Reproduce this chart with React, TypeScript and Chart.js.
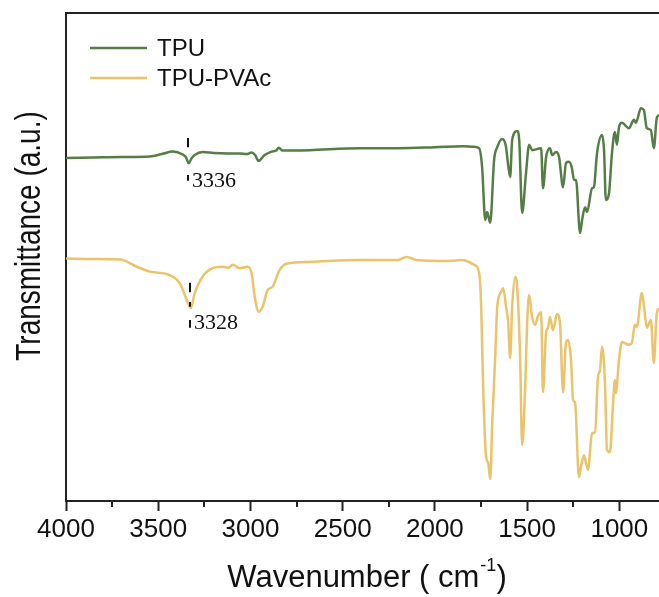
import React, { useEffect, useRef } from "react";
import { Chart, registerables } from "chart.js";

Chart.register(...registerables);

// ---- Data ----
const seriesNames = ["TPU", "TPU-PVAc"];

const tpuWavenumber = [
  4000, 3850, 3700, 3545, 3480, 3421, 3367, 3350, 3335, 3318, 3302, 3259, 3200, 3129, 3058, 3020,
  2994, 2975, 2956, 2923, 2885, 2858, 2847, 2826, 2680, 2409, 2200, 2000, 1850, 1790, 1760, 1744,
  1727, 1717, 1700, 1679, 1662, 1635, 1614, 1608, 1592, 1581, 1554, 1543, 1527, 1506, 1489, 1473,
  1424, 1414, 1397, 1376, 1365, 1343, 1327, 1305, 1289, 1273, 1257, 1246, 1235, 1213, 1202, 1186,
  1175, 1148, 1138, 1121, 1094, 1083, 1073, 1056, 1040, 1024, 1013, 1002, 986, 948, 921, 910, 883,
  867, 851, 829, 813, 797, 785,
];
const tpuTransmittance = [
  70.3, 70.4, 70.5, 70.6, 71.1, 71.6, 71.0, 70.5, 69.2, 70.3, 70.9, 71.5, 71.3, 71.2, 71.2, 71.1,
  71.4, 70.9, 69.7, 70.9, 71.6, 71.9, 72.4, 71.8, 71.9, 72.3, 72.3, 72.5, 72.7, 72.6, 72.3, 68.4,
  57.6, 59.2, 57.0, 69.9, 72.5, 74.2, 72.5, 70.5, 66.4, 74.0, 75.8, 74.0, 59.0, 67.2, 73.0, 71.9,
  72.3, 64.1, 70.5, 72.3, 70.9, 71.5, 70.5, 64.3, 69.3, 69.5, 68.2, 65.8, 65.8, 54.9, 57.6, 60.2,
  59.2, 64.1, 64.3, 71.3, 75.0, 71.9, 61.7, 63.1, 71.3, 75.6, 73.0, 76.6, 77.5, 76.4, 78.1, 77.5, 80.5,
  80.1, 76.4, 76.0, 72.3, 78.5, 79.1,
];

const pvacWavenumber = [
  4000, 3850, 3708, 3616, 3545, 3437, 3383, 3345, 3324, 3302, 3259, 3205, 3150, 3120, 3096, 3058,
  3015, 2994, 2977, 2956, 2934, 2907, 2880, 2842, 2804, 2680, 2409, 2200, 2155, 2100, 1922, 1852,
  1787, 1760, 1749, 1738, 1722, 1711, 1700, 1689, 1673, 1662, 1641, 1630, 1614, 1603, 1592, 1581,
  1565, 1554, 1538, 1527, 1511, 1500, 1489, 1473, 1457, 1441, 1424, 1414, 1397, 1387, 1376, 1360,
  1338, 1322, 1305, 1289, 1278, 1262, 1251, 1240, 1219, 1208, 1192, 1170, 1148, 1132, 1116, 1105,
  1094, 1078, 1067, 1051, 1035, 1024, 1019, 1002, 986, 948, 932, 916, 905, 878, 867, 851, 829, 813,
  797, 785,
];
const pvacTransmittance = [
  49.7, 49.6, 49.5, 48.0, 47.0, 46.3, 44.6, 41.2, 39.5, 42.6, 46.0, 47.7, 48.0, 47.8, 48.4, 47.7,
  48.0, 46.7, 41.9, 38.8, 39.8, 43.2, 43.9, 47.3, 48.6, 49.0, 49.4, 49.4, 50.0, 49.4, 49.2, 49.4,
  48.4, 46.7, 39.8, 22.7, 9.0, 7.8, 4.5, 16.0, 29.5, 39.8, 42.8, 43.6, 39.8, 36.7, 29.3, 39.8,
  45.9, 43.9, 29.5, 11.5, 22.7, 36.5, 42.2, 37.7, 36.1, 37.9, 38.7, 22.3, 34.6, 35.5, 37.7, 35.0,
  38.3, 36.5, 22.3, 32.6, 33.0, 28.9, 20.7, 20.1, 4.9, 7.0, 9.4, 6.4, 13.9, 14.1, 25.4, 26.8,
  31.6, 24.2, 10.5, 10.0, 19.3, 24.8, 22.1, 28.9, 32.6, 32.0, 32.4, 36.1, 35.7, 42.6, 40.2, 35.5, 37.1, 28.3,
  38.5, 39.5,
];

const xMajorTicks = [4000, 3500, 3000, 2500, 2000, 1500, 1000];
const xMinorTicks = [3750, 3250, 2750, 2250, 1750, 1250];

// peak annotations: wavenumber, label, dash segments (transmittance ranges), label level
const peakWavenumbers = [3336, 3328];
const peakLabels = ["3336", "3328"];
const peakSegments = [
  [[74.4, 72.5], [66.8, 65.6]],
  [[44.7, 42.8], [40.8, 39.8], [37.1, 35.5]],
];
const peakLabelLevels = [65.8, 36.6];

const colors = ["#557d45", "#ebc36b"];

const decorPlugin = {
  id: "decor",
  afterDraw(chart: any) {
    const { ctx, chartArea, scales } = chart;
    const xs = scales.x;
    const ys = scales.y;
    ctx.save();
    // top border
    ctx.strokeStyle = "#222";
    ctx.lineWidth = 2;
    ctx.beginPath();
    ctx.moveTo(chartArea.left - 1, chartArea.top);
    ctx.lineTo(chartArea.right, chartArea.top);
    ctx.stroke();
    // minor ticks
    ctx.lineWidth = 2;
    xMinorTicks.forEach((v) => {
      const px = Math.round(xs.getPixelForValue(v));
      ctx.beginPath();
      ctx.moveTo(px, chartArea.bottom);
      ctx.lineTo(px, chartArea.bottom + 6);
      ctx.stroke();
    });
    // peak markers
    ctx.strokeStyle = "#111";
    ctx.lineWidth = 2;
    ctx.fillStyle = "#111";
    ctx.font = "22px 'Liberation Serif', 'Times New Roman', serif";
    ctx.textBaseline = "middle";
    ctx.textAlign = "left";
    peakWavenumbers.forEach((wn, i) => {
      const px = Math.round(xs.getPixelForValue(wn));
      peakSegments[i].forEach(([a, b]) => {
        ctx.beginPath();
        ctx.moveTo(px, ys.getPixelForValue(a));
        ctx.lineTo(px, ys.getPixelForValue(b));
        ctx.stroke();
      });
      ctx.fillText(peakLabels[i], px + 4, ys.getPixelForValue(peakLabelLevels[i]) + 1);
    });
    // legend
    ctx.font = "24px 'Liberation Sans', Arial, sans-serif";
    ctx.textBaseline = "alphabetic";
    chart.data.datasets.forEach((ds: any, i: number) => {
      const y = chartArea.top + 35 + i * 30;
      ctx.strokeStyle = ds.borderColor;
      ctx.lineWidth = 2.5;
      ctx.beginPath();
      ctx.moveTo(chartArea.left + 24, y);
      ctx.lineTo(chartArea.left + 81, y);
      ctx.stroke();
      ctx.fillStyle = "#111";
      ctx.fillText(ds.label, chartArea.left + 91, y + 8);
    });
    // x title with superscript
    ctx.fillStyle = "#111";
    const main = "Wavenumber ( cm";
    const sup = "-1";
    const close = ")";
    const bigFont = "31px 'Liberation Sans', Arial, sans-serif";
    const smallFont = "18px 'Liberation Sans', Arial, sans-serif";
    ctx.font = bigFont;
    const w1 = ctx.measureText(main).width;
    const w3 = ctx.measureText(close).width;
    ctx.font = smallFont;
    const w2 = ctx.measureText(sup).width;
    const total = w1 + w2 + w3;
    const cx = (chartArea.left + chartArea.right) / 2 + 4;
    const x0 = cx - total / 2;
    const base = chartArea.bottom + 86;
    ctx.font = bigFont;
    ctx.fillText(main, x0, base);
    ctx.font = smallFont;
    ctx.fillText(sup, x0 + w1 + 1, base - 16);
    ctx.font = bigFont;
    ctx.fillText(close, x0 + w1 + w2 + 1, base);
    // y title
    ctx.save();
    ctx.translate(chartArea.left - 36, chartArea.top + 223);
    ctx.rotate(-Math.PI / 2);
    ctx.scale(1, 1.25);
    ctx.textAlign = "center";
    ctx.textBaseline = "middle";
    ctx.font = "28px 'Liberation Sans', Arial, sans-serif";
    ctx.fillText("Transmittance (a.u.)", 0, 0);
    ctx.restore();
    ctx.restore();
  },
};

export default function App() {
  const ref = useRef<HTMLCanvasElement>(null);
  useEffect(() => {
    document.body.style.margin = "0";
    const canvas = ref.current!;
    const chart = new Chart(canvas, {
      type: "line",
      data: {
        datasets: [
          {
            label: seriesNames[0],
            data: tpuWavenumber.map((x, i) => ({ x, y: tpuTransmittance[i] })),
            borderColor: colors[0],
            borderWidth: 2.5,
            pointRadius: 0,
            cubicInterpolationMode: "monotone",
          },
          {
            label: seriesNames[1],
            data: pvacWavenumber.map((x, i) => ({ x, y: pvacTransmittance[i] })),
            borderColor: colors[1],
            borderWidth: 2.5,
            pointRadius: 0,
            cubicInterpolationMode: "monotone",
          },
        ],
      },
      options: {
        animation: false,
        responsive: false,
        devicePixelRatio: 1,
        layout: { padding: { top: 13, left: 0, right: 0, bottom: 0 } },
        plugins: { legend: { display: false }, tooltip: { enabled: false } },
        scales: {
          x: {
            type: "linear",
            reverse: true,
            min: 785,
            max: 4000,
            afterBuildTicks: (s: any) => {
              s.ticks = xMajorTicks.map((v) => ({ value: v }));
            },
            afterFit: (s: any) => {
              s.height = 96;
            },
            grid: {
              display: true,
              drawOnChartArea: false,
              drawTicks: true,
              tickLength: 10,
              tickWidth: 2,
              tickColor: "#222",
            },
            border: { display: true, color: "#222", width: 2 },
            ticks: {
              autoSkip: false,
              maxRotation: 0,
              padding: 3,
              color: "#111",
              font: { family: "'Liberation Sans', Arial, sans-serif", size: 26 },
              callback: (v: any) => String(v),
            },
          },
          y: {
            min: 0,
            max: 100,
            afterFit: (s: any) => {
              s.width = 66;
            },
            grid: { display: false },
            border: { display: true, color: "#222", width: 2 },
            ticks: { display: false },
          },
        },
      },
      plugins: [decorPlugin],
    } as any);
    return () => chart.destroy();
  }, []);
  return <canvas ref={ref} width={659} height={597} style={{ display: "block" }} />;
}
